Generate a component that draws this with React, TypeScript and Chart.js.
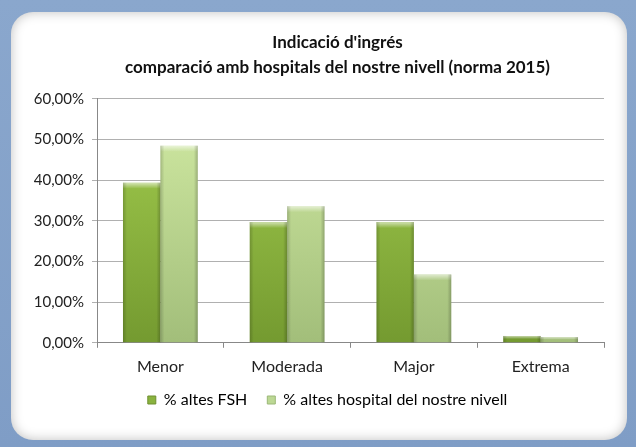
import React, { useEffect, useRef } from "react";
import { Chart, registerables } from "chart.js";

Chart.register(...registerables);

const categories = ["Menor", "Moderada", "Major", "Extrema"];
const fshValues = [39.4, 29.7, 29.7, 1.7];
const hospValues = [48.5, 33.6, 16.8, 1.4];
const seriesNames = ["% altes FSH", "% altes hospital del nostre nivell"];
const yTicks = [0, 10, 20, 30, 40, 50, 60];
const titleLines = ["Indicació d'ingrés", "comparació amb hospitals del nostre nivell (norma 2015)"];

const FONT = "Lato, 'Open Sans', sans-serif";

function fmt(v: number) {
  return v.toFixed(2).replace(".", ",") + "%";
}

function barGradient(ctx: any, top: string, bottom: string) {
  const chart = ctx.chart;
  const area = chart.chartArea;
  if (!area) return top;
  const g = chart.ctx.createLinearGradient(0, area.top, 0, area.bottom);
  g.addColorStop(0, top);
  g.addColorStop(1, bottom);
  return g;
}

const shiftPlugin = {
  id: "shiftBoxes",
  afterLayout(chart: any) {
    if (chart.titleBlock) {
      chart.titleBlock.left += 20;
      chart.titleBlock.right += 20;
    }
    if (chart.legend) {
      chart.legend.left += 10;
      chart.legend.right += 10;
      chart.legend.top -= 13;
      chart.legend.bottom -= 13;
    }
  },
};

const bevelPlugin = {
  id: "bevel",
  afterDatasetsDraw(chart: any) {
    const c = chart.ctx;
    chart.data.datasets.forEach((ds: any, i: number) => {
      const meta = chart.getDatasetMeta(i);
      meta.data.forEach((bar: any) => {
        const p = bar.getProps(["x", "y", "base", "width"], true);
        const left = p.x - p.width / 2;
        const right = p.x + p.width / 2;
        const top = p.y;
        const h = p.base - p.y;
        c.save();
        const hl = Math.min(6, h / 2);
        const tg = c.createLinearGradient(0, top, 0, top + hl);
        tg.addColorStop(0, "rgba(255,255,255,0.6)");
        tg.addColorStop(1, "rgba(255,255,255,0)");
        c.fillStyle = tg;
        c.fillRect(left, top, p.width, hl);
        const sw = 4;
        const lg = c.createLinearGradient(left, 0, left + sw, 0);
        lg.addColorStop(0, "rgba(0,0,0,0.18)");
        lg.addColorStop(1, "rgba(0,0,0,0)");
        c.fillStyle = lg;
        c.fillRect(left, top, sw, h);
        const rg = c.createLinearGradient(right - sw, 0, right, 0);
        rg.addColorStop(0, "rgba(0,0,0,0)");
        rg.addColorStop(1, "rgba(0,0,0,0.22)");
        c.fillStyle = rg;
        c.fillRect(right - sw, top, sw, h);
        c.restore();
      });
    });
  },
};

export default function App() {
  const ref = useRef<HTMLCanvasElement>(null);
  useEffect(() => {
    document.body.style.margin = "0";
    const chart = new Chart(ref.current!, {
      type: "bar",
      data: {
        labels: categories,
        datasets: [
          {
            label: seriesNames[0],
            data: fshValues,
            backgroundColor: (ctx: any) => barGradient(ctx, "#a5cf50", "#749a30"),
            borderWidth: 0,
            barPercentage: 1,
            categoryPercentage: 0.59,
          },
          {
            label: seriesNames[1],
            data: hospValues,
            backgroundColor: (ctx: any) => barGradient(ctx, "#d2eba4", "#a2be7a"),
            borderWidth: 0,
            barPercentage: 1,
            categoryPercentage: 0.59,
          },
        ],
      },
      options: {
        animation: false,
        responsive: false,
        maintainAspectRatio: false,
        layout: { padding: { left: 20, right: 23, top: 18, bottom: 9 } },
        plugins: {
          title: {
            display: true,
            text: titleLines,
            color: "#111",
            font: { family: FONT, size: 17, weight: "bold", lineHeight: 1.47 },
            padding: { top: 0, bottom: 19 },
          },
          legend: {
            position: "bottom",
            labels: {
              color: "#222",
              font: { family: FONT, size: 16 },
              boxWidth: 8,
              boxHeight: 8,
              padding: 20,
              generateLabels: (ch: any) =>
                ch.data.datasets.map((ds: any, i: number) => ({
                  text: ds.label,
                  fillStyle: i === 0 ? "#8ab33f" : "#bcd894",
                  strokeStyle: i === 0 ? "#6e8f30" : "#9cb878",
                  lineWidth: 1,
                  datasetIndex: i,
                })),
            },
          },
          tooltip: { enabled: false },
        },
        scales: {
          x: {
            grid: {
              display: true,
              drawOnChartArea: false,
              drawTicks: true,
              tickLength: 5,
              offset: true,
              color: "#888",
            },
            border: { display: true, color: "#888" },
            ticks: { color: "#222", font: { family: FONT, size: 16 }, padding: 9 },
          },
          y: {
            min: 0,
            max: 60,
            afterBuildTicks: (axis: any) => {
              axis.ticks = yTicks.map((v) => ({ value: v }));
            },
            afterFit: (axis: any) => {
              axis.width = 66;
            },
            grid: { color: "#b0b0b0", tickLength: 5, drawTicks: true },
            border: { display: true, color: "#888" },
            ticks: {
              color: "#222",
              font: { family: FONT, size: 15 },
              padding: 8,
              callback: (v: any) => fmt(Number(v)),
            },
          },
        },
      },
      plugins: [shiftPlugin, bevelPlugin],
    });
    return () => chart.destroy();
  }, []);

  return (
    <div
      style={{
        position: "relative",
        width: 636,
        height: 447,
        background: "linear-gradient(180deg, #8aa7cd 0%, #7f9dc6 100%)",
        overflow: "hidden",
      }}
    >
      <div
        style={{
          position: "absolute",
          left: 11,
          top: 12,
          width: 616,
          height: 428,
          background: "#fff",
          borderRadius: 22,
          boxShadow: "inset 0 0 12px rgba(0,0,0,0.25)",
        }}
      >
        <canvas ref={ref} width={616} height={428} style={{ display: "block" }} />
      </div>
    </div>
  );
}
